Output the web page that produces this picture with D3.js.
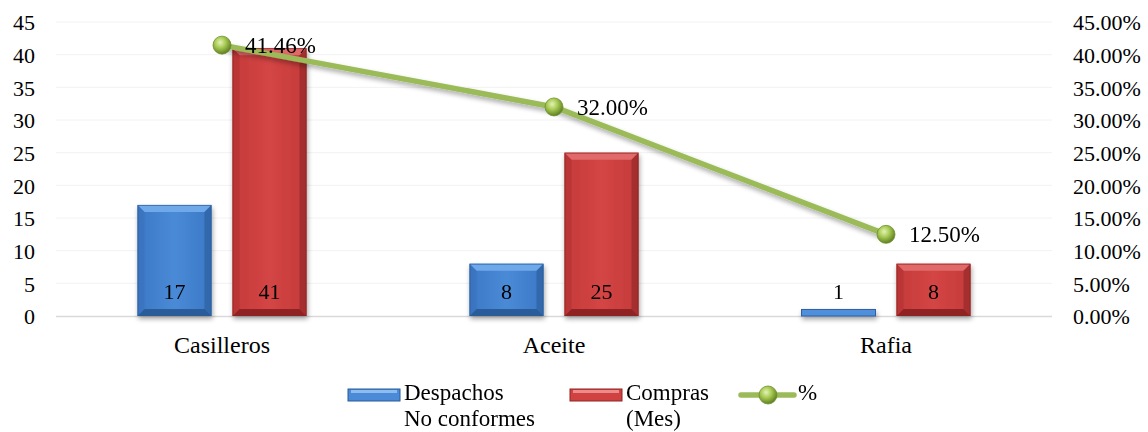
<!DOCTYPE html>
<html><head><meta charset="utf-8">
<script src="https://cdn.jsdelivr.net/npm/d3@7"></script>
<style>body{margin:0;background:#fff}text{font-family:"Liberation Serif","Times New Roman",serif;fill:#000}</style>
</head><body>
<svg id="c" width="1148" height="432"></svg>
<script>
const categories = ["Casilleros", "Aceite", "Rafia"];
const despachos = [17, 8, 1];
const compras = [41, 25, 8];
const percent = [41.46, 32.00, 12.50];
const leftTicks = [0,5,10,15,20,25,30,35,40,45];
const rightTicks = [0,5,10,15,20,25,30,35,40,45];
const seriesNames = ["Despachos No conformes", "Compras (Mes)", "%"];

const svg = d3.select("#c");
const L = 56, R = 1052, T = 22, B = 316;
const FS = 22;
const x = d3.scaleBand().domain(categories).range([L, R]);
const bw = x.bandwidth();
const x1 = d3.scaleBand().domain(["d","c"]).range([bw*0.2455, bw*0.7545]).paddingInner(0.221);
const y = d3.scaleLinear().domain([0,45]).range([B, T]);
const y2 = d3.scaleLinear().domain([0,45]).range([B, T]);

const defs = svg.append("defs");
function grad(id, stops, vertical){
  const g = defs.append("linearGradient").attr("id", id).attr("x1",0).attr("y1",0)
    .attr("x2", vertical?0:1).attr("y2", vertical?1:0);
  stops.forEach(s=>g.append("stop").attr("offset",s[0]).attr("stop-color",s[1]));
}
grad("gB", [[0,"#3b78c6"],[0.5,"#4a8ad6"],[1,"#3b78c6"]], false);
grad("gR", [[0,"#c43a3a"],[0.5,"#d44545"],[1,"#c43a3a"]], false);
const rg = defs.append("radialGradient").attr("id","gM").attr("cx","40%").attr("cy","35%").attr("r","65%");
rg.append("stop").attr("offset",0).attr("stop-color","#e4f2b8");
rg.append("stop").attr("offset",0.45).attr("stop-color","#a9cc55");
rg.append("stop").attr("offset",1).attr("stop-color","#5f7f22");
const f = defs.append("filter").attr("id","sh").attr("x","-10%").attr("y","-50%").attr("width","120%").attr("height","200%");
f.append("feGaussianBlur").attr("in","SourceAlpha").attr("stdDeviation",2.5);
f.append("feOffset").attr("dx",1).attr("dy",3).attr("result","b");
f.append("feComponentTransfer").append("feFuncA").attr("type","linear").attr("slope",0.35);
const fm = f.append("feMerge"); fm.append("feMergeNode"); fm.append("feMergeNode").attr("in","SourceGraphic");

// gridlines
svg.append("g").selectAll("line").data(leftTicks.filter(d=>d>0)).join("line")
  .attr("x1",L).attr("x2",R).attr("y1",d=>y(d)).attr("y2",d=>y(d))
  .attr("stroke","#f2f2f2").attr("stroke-width",1);
svg.append("line").attr("x1",L).attr("x2",R).attr("y1",y(0)+0.5).attr("y2",y(0)+0.5)
  .attr("stroke","#d9d9d9").attr("stroke-width",1.5);

// axes
const axL = svg.append("g").attr("transform",`translate(${L-21},0)`)
  .call(d3.axisLeft(y).tickValues(leftTicks).tickSize(0).tickPadding(0).tickFormat(d3.format("d")));
const axR = svg.append("g").attr("transform",`translate(${R+21},0)`)
  .call(d3.axisRight(y2).tickValues(rightTicks).tickSize(0).tickPadding(0).tickFormat(d=>d.toFixed(2)+"%"));
[axL, axR].forEach(a=>{a.attr("font-family",null); a.select(".domain").remove(); a.selectAll("text").attr("font-size",FS).attr("dy","0.35em");});

const axB = svg.append("g").attr("transform",`translate(0,${B})`)
  .call(d3.axisBottom(x).tickSize(0).tickPadding(0));
axB.attr("font-family",null);
axB.select(".domain").remove();
axB.selectAll("text").attr("font-size",24).attr("dy",null).attr("y",37);

// bevel bar drawing
function bevelBar(g, bx, by, w, h, base, light, dark, side){
  const b = Math.min(7, h/2, w/2);
  g.append("rect").attr("x",bx).attr("y",by).attr("width",w).attr("height",h).attr("fill",base);
  g.append("path").attr("d",`M${bx},${by}L${bx+w},${by}L${bx+w-b},${by+b}L${bx+b},${by+b}Z`).attr("fill",light);
  g.append("path").attr("d",`M${bx},${by+h}L${bx+w},${by+h}L${bx+w-b},${by+h-b}L${bx+b},${by+h-b}Z`).attr("fill",dark);
  g.append("path").attr("d",`M${bx},${by}L${bx+b},${by+b}L${bx+b},${by+h-b}L${bx},${by+h}Z`).attr("fill",side).attr("opacity",0.55);
  g.append("path").attr("d",`M${bx+w},${by}L${bx+w-b},${by+b}L${bx+w-b},${by+h-b}L${bx+w},${by+h}Z`).attr("fill",dark).attr("opacity",0.6);
  g.append("rect").attr("x",bx+0.5).attr("y",by+0.5).attr("width",w-1).attr("height",h-1).attr("fill","none").attr("stroke",dark).attr("stroke-width",1).attr("opacity",0.7);
}
const bars = svg.append("g").attr("filter","url(#sh)");
categories.forEach((c,i)=>{
  const bxD = x(c)+x1("d"), bxC = x(c)+x1("c"), w = x1.bandwidth();
  const hD = y(0)-y(despachos[i]), hC = y(0)-y(compras[i]);
  const gD = bars.append("g"), gC = bars.append("g");
  if (hD < 8) {
    gD.append("rect").attr("x",bxD).attr("y",y(despachos[i])).attr("width",w).attr("height",hD).attr("fill","#4f8fdb").attr("stroke","#2d5f9f").attr("stroke-width",1);
  } else bevelBar(gD, bxD, y(despachos[i]), w, hD, "url(#gB)", "#6fa9ea", "#2b5b9a", "#3a70b8");
  bevelBar(gC, bxC, y(compras[i]), w, hC, "url(#gR)", "#e06a6a", "#8f2424", "#b03232");
});
// bar labels
const lbl = svg.append("g");
categories.forEach((c,i)=>{
  const w = x1.bandwidth();
  lbl.append("text").attr("x",x(c)+x1("d")+w/2).attr("y",299).attr("text-anchor","middle").attr("font-size",FS).text(despachos[i]);
  lbl.append("text").attr("x",x(c)+x1("c")+w/2).attr("y",299).attr("text-anchor","middle").attr("font-size",FS).text(compras[i]);
});

// line
const cx = c => x(c)+bw/2;
const line = d3.line().x((d,i)=>cx(categories[i])).y(d=>y2(d));
svg.append("path").datum(percent).attr("d",line).attr("fill","none")
  .attr("stroke","#9bbb59").attr("stroke-width",5.5).attr("stroke-linejoin","round").attr("filter","url(#sh)");
svg.append("g").selectAll("circle").data(percent).join("circle")
  .attr("cx",(d,i)=>cx(categories[i])).attr("cy",d=>y2(d)).attr("r",9)
  .attr("fill","url(#gM)").attr("stroke","#6f8f2c").attr("stroke-width",0.8);
svg.append("g").selectAll("text").data(percent).join("text")
  .attr("x",(d,i)=>cx(categories[i])+23).attr("y",d=>y2(d)+8)
  .attr("font-size",23).text(d=>d.toFixed(2)+"%");

// legend
const lg = svg.append("g");
function legSwatch(x0, light, base, dark){
  lg.append("rect").attr("x",x0).attr("y",389).attr("width",52).attr("height",12).attr("fill",base).attr("stroke",dark).attr("stroke-width",1);
  lg.append("rect").attr("x",x0+3).attr("y",390).attr("width",46).attr("height",3).attr("fill",light);
}
const LFS = 23;
legSwatch(348, "#8cbcf0", "#4a8ad6", "#2b5b9a");
lg.append("text").attr("x",404).attr("y",400).attr("font-size",LFS).text("Despachos");
lg.append("text").attr("x",404).attr("y",426).attr("font-size",LFS).text("No conformes");
legSwatch(570, "#ee8a8a", "#d04242", "#8f2424");
lg.append("text").attr("x",626).attr("y",400).attr("font-size",LFS).text("Compras");
lg.append("text").attr("x",626).attr("y",426).attr("font-size",LFS).text("(Mes)");
lg.append("line").attr("x1",741).attr("x2",794).attr("y1",395).attr("y2",395).attr("stroke","#9bbb59").attr("stroke-width",5.5).attr("stroke-linecap","round");
lg.append("circle").attr("cx",768).attr("cy",395).attr("r",9).attr("fill","url(#gM)").attr("stroke","#6f8f2c").attr("stroke-width",0.8);
lg.append("text").attr("x",798).attr("y",400).attr("font-size",LFS).text("%");
</script>
</body></html>
